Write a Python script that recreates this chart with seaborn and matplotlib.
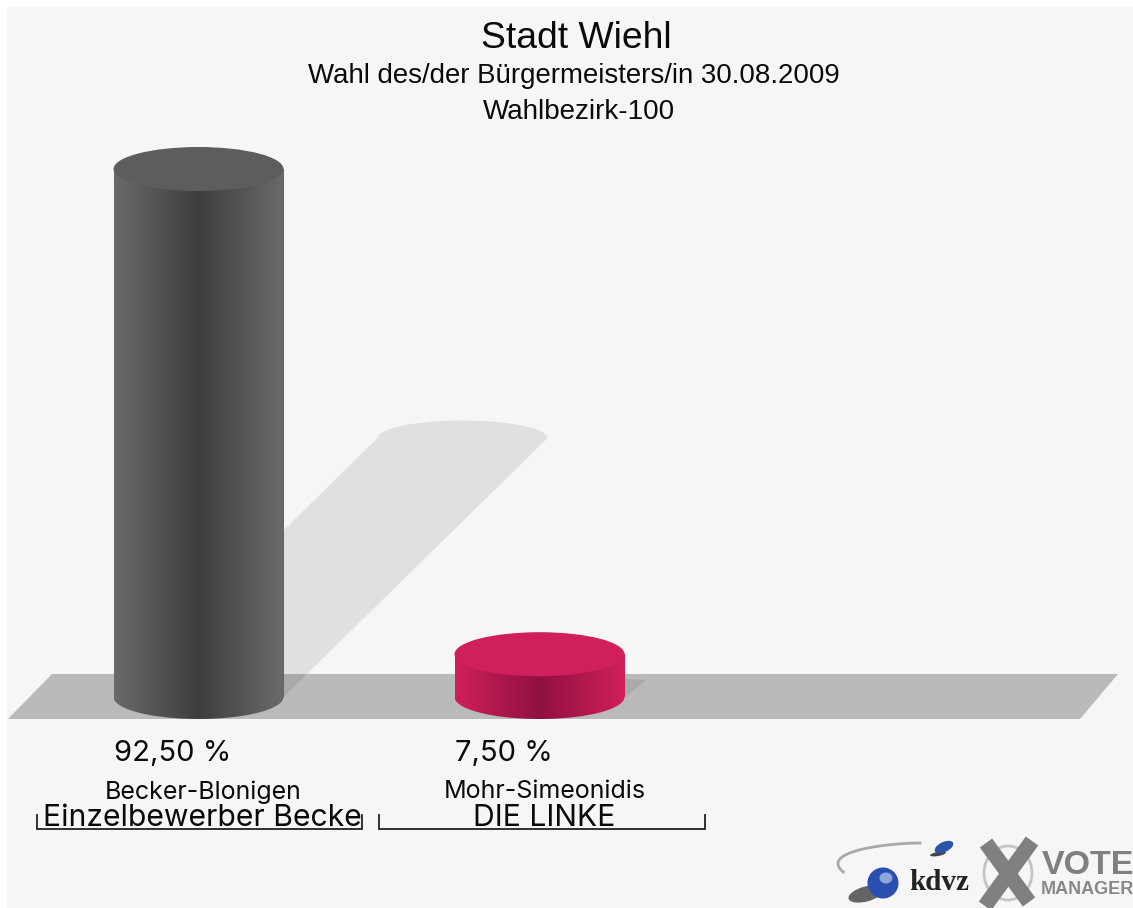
import numpy as np
import matplotlib
matplotlib.use("Agg")
import matplotlib.pyplot as plt
from matplotlib.patches import PathPatch, Polygon, Ellipse, Rectangle
from matplotlib.path import Path
from matplotlib.transforms import Affine2D
from matplotlib.colors import LinearSegmentedColormap
import seaborn as sns

# ---- data ----
candidates = ["Becker-Blonigen", "Mohr-Simeonidis"]
parties = ["Einzelbewerber Becke", "DIE LINKE"]
shares = [92.5, 7.5]
share_labels = ["92,50 %", "7,50 %"]
title_lines = ["Stadt Wiehl", "Wahl des/der Bürgermeisters/in 30.08.2009", "Wahlbezirk-100"]
edge_colors = ["#6a6a6a", "#d11f5b"]
mid_colors = ["#3e3e3e", "#8f1140"]
cap_colors = ["#5d5d5d", "#d11f5b"]

W, H = 1133, 908
plt.rcParams["font.family"] = ["Liberation Sans", "DejaVu Sans"]
fig = plt.figure(figsize=(W / 100, H / 100), dpi=100, facecolor="white")
ax = fig.add_axes([7 / W, 0, (W - 7) / W, (H - 7) / H])
ax.set_facecolor("#f6f6f6")

# scale of the chart: pixels per category step / per percent point
PX_X, PX_Y, X0, Y0 = 341.0, 5.708, 198.5, 697.0
bar_w = 170 / PX_X
cap_h = 22 / PX_Y

sns.barplot(x=candidates, y=shares, hue=candidates, palette=cap_colors, width=bar_w,
            legend=False, ax=ax, zorder=3, saturation=1)

xl = ((7 - X0) / PX_X, (W - X0) / PX_X)
yl = ((Y0 - H) / PX_Y, (Y0 - 7) / PX_Y)

# pixel-space helper for decoration
px = Affine2D().scale(1 / W, -1 / H).translate(0, 1) + fig.transFigure

# floor
ax.add_patch(Polygon([(8, 719), (1080, 719), (1118, 674), (52, 674)], closed=True,
                     facecolor="#bababa", edgecolor="none", transform=px, zorder=1))

t = np.linspace(0, np.pi, 60)
for i, v in enumerate(shares):
    # shadow: sheared half-height copy of the cylinder
    lift = v / 2 - 0.9
    shift = (v / 2) * PX_Y / PX_X
    arc = cap_h * 0.8 * min(1, v / 50)
    sx = i + shift + bar_w / 2 * np.cos(t)
    sy = lift + arc * np.sin(t)
    pts = np.column_stack([np.r_[i + bar_w / 2, sx, i - bar_w / 2],
                           np.r_[0, sy, 0]])
    ax.add_patch(Polygon(pts, closed=True, facecolor="black", alpha=0.088,
                         edgecolor="none", zorder=2))

    # cylinder body: gradient clipped to bar + lower half ellipse
    bx = i + bar_w / 2 * np.cos(t)
    by = -cap_h * np.sin(t)
    body = np.column_stack([np.r_[i - bar_w / 2, i + bar_w / 2, bx],
                            np.r_[v, v, by]])
    clip = PathPatch(Path(np.r_[body, body[:1]], closed=True), transform=ax.transData,
                     facecolor="none", edgecolor="none")
    ax.add_patch(clip)
    cmap = LinearSegmentedColormap.from_list("c", [edge_colors[i], mid_colors[i], edge_colors[i]])
    im = ax.imshow(np.linspace(0, 1, 256)[None, :], cmap=cmap, aspect="auto", zorder=4,
                   extent=(i - bar_w / 2, i + bar_w / 2, -cap_h, v), interpolation="bilinear")
    im.set_clip_path(clip)
    # top cap
    ax.add_patch(Ellipse((i, v), bar_w, 2 * cap_h, facecolor=cap_colors[i],
                         edgecolor="none", zorder=5))

ax.set_xlim(*xl)
ax.set_ylim(*yl)
ax.set_xticks([])
ax.set_yticks([])
ax.set_xlabel("")
ax.set_ylabel("")
sns.despine(ax=ax, left=True, bottom=True)

# ---- texts ----
def T(x, y, s, size, **kw):
    kw.setdefault("color", "#0a0a0a")
    return ax.text(x, y, s, transform=px, fontsize=size, ha="center", va="center", zorder=6, **kw)

T(576, 39, title_lines[0], 26.8)
T(574, 76, title_lines[1], 19.9)
T(579, 112, title_lines[2], 20)

label_font = ["Inter", "DejaVu Sans"]
for (cx, lab) in zip([173, 504], share_labels):
    T(cx, 753, lab, 21, family=label_font)
for (cx, lab) in zip([203, 545], candidates):
    T(cx, 792, lab, 18, family=label_font)

tp = T(202, 818.5, parties[0], 21.7, family=label_font)
tp.set_clip_path(Rectangle((37, 800), 325, 40, transform=px))
T(544, 818.5, parties[1], 21.7, family=label_font)

for a, b in [(37, 362), (379, 705)]:
    ax.plot([a, a, b, b], [815, 829, 829, 815], transform=px, color="#222222", lw=1.3, zorder=6,
            solid_joinstyle="miter")

# ---- logo ----
arc_t = np.linspace(0, 1, 40)
arc_x = 920 - 82 * np.sin(arc_t * np.pi * 0.62) ** 0.9
arc_y = 843 + 29 * arc_t ** 1.6
ax.plot(arc_x, arc_y, transform=px, color="#a8a8a8", lw=2, zorder=6)
ax.add_patch(Ellipse((938, 854), 16, 4, angle=-10, facecolor="#444444", edgecolor="none", transform=px, zorder=6))
ax.add_patch(Ellipse((944, 847), 20, 10, angle=-25, facecolor="#2a55a8", edgecolor="none", transform=px, zorder=6))
ax.add_patch(Ellipse((866, 894), 36, 15, angle=-15, facecolor="#333333", edgecolor="none", alpha=0.75,
                     transform=px, zorder=6))
ax.add_patch(Ellipse((883, 883), 31, 31, facecolor="#2a4fb0", edgecolor="none", transform=px, zorder=6))
ax.add_patch(Ellipse((886, 878), 13, 11, facecolor="#8ea6d8", edgecolor="none", transform=px, zorder=6))
T(939, 883, "kdvz", 21, family="Liberation Serif", weight="bold", color="#222222")
ax.add_patch(Ellipse((1008, 873), 48, 54, facecolor="none", edgecolor="#c4c4c4", lw=2, transform=px, zorder=6))
ax.plot([985, 1032], [906, 841], transform=px, color="#808080", lw=11, zorder=7, solid_capstyle="butt")
ax.plot([986, 1029], [843, 902], transform=px, color="#808080", lw=11, zorder=7, solid_capstyle="butt")
T(1088, 866, "VOTE", 24.5, weight="bold", color="#808080", clip_on=True)
T(1087, 889, "MANAGER", 13, weight="bold", color="#888888", clip_on=True)

fig.savefig("out.png", dpi=100, facecolor="white")
